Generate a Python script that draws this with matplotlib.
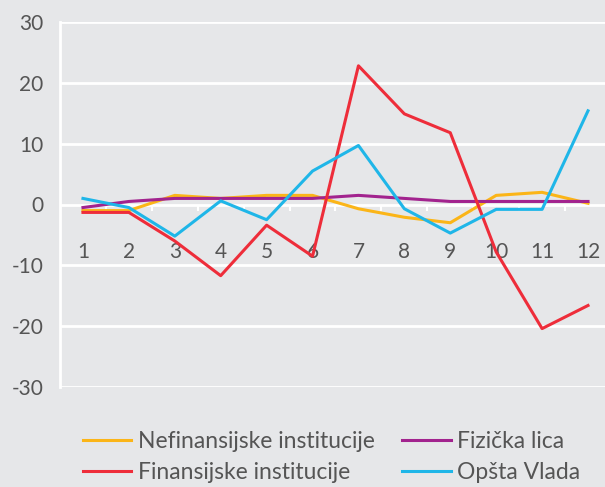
import numpy as np
import matplotlib
matplotlib.use("Agg")
import matplotlib.pyplot as plt
from matplotlib.ticker import FixedLocator

# monthly values
months = list(range(1, 13))
nefinansijske = [-1, -1, 1.5, 1, 1.5, 1.5, -0.7, -2.1, -3, 1.5, 2, 0.2]
fizicka = [-0.5, 0.5, 1, 1, 1, 1, 1.5, 1, 0.5, 0.5, 0.5, 0.5]
finansijske = [-1.3, -1.3, -6, -11.7, -3.4, -8.5, 22.8, 14.9, 11.8, -7.8, -20.4, -16.6]
opsta_vlada = [1, -0.5, -5.2, 0.6, -2.5, 5.5, 9.7, -0.7, -4.7, -0.8, -0.8, 15.4]
yticks = [-30, -20, -10, 0, 10, 20, 30]

bg = '#e6e7e9'
txt = '#555555'
plt.rcParams['font.family'] = ['Lato', 'DejaVu Sans']
plt.rcParams['axes.unicode_minus'] = False

fig = plt.figure(figsize=(6.05, 4.87), dpi=100, facecolor=bg)
ax = fig.add_axes([60/605, 100/487, 545/605, 365/487], facecolor=bg)

ax.set_xlim(0.5, 12.37)
ax.set_ylim(-30, 30)

for v in yticks:
    ax.axhline(v, color='white', lw=2, zorder=1)

l1, = ax.plot(months, nefinansijske, color='#fbb518', lw=2.2, zorder=3,
              label='Nefinansijske institucije')
l2, = ax.plot(months, fizicka, color='#a2238e', lw=2.2, zorder=4,
              label='Fizička lica')
l3, = ax.plot(months, finansijske, color='#ee2d3a', lw=2.2, zorder=5,
              label='Finansijske institucije')
l4, = ax.plot(months, opsta_vlada, color='#1fb6e8', lw=2.2, zorder=6,
              label='Opšta Vlada')

for s in ['top', 'right']:
    ax.spines[s].set_visible(False)
ax.spines['left'].set_color('white')
ax.spines['left'].set_linewidth(2)
ax.spines['bottom'].set_position(('data', 0))
ax.spines['bottom'].set_visible(False)

ax.set_yticks(yticks)
ax.tick_params(axis='y', length=0, pad=12, labelsize=15, labelcolor=txt)
ax.set_xticks(months)
ax.xaxis.set_minor_locator(FixedLocator(np.arange(1.5, 12, 1)))
ax.tick_params(axis='x', which='major', length=0, pad=27, labelsize=15,
               labelcolor=txt)
ax.tick_params(axis='x', which='minor', length=4, width=1.5, color='white',
               direction='out')

leg = fig.legend(handles=[l1, l3, l2, l4], ncol=2, frameon=False,
                 loc='lower left', bbox_to_anchor=(83/605, 4/487),
                 borderpad=0, borderaxespad=0,
                 fontsize=16.5, handlelength=2.1, handletextpad=0.3,
                 columnspacing=1.2, labelspacing=0.45)
for t in leg.get_texts():
    t.set_color(txt)

fig.savefig('out.png', dpi=100, facecolor=bg)
